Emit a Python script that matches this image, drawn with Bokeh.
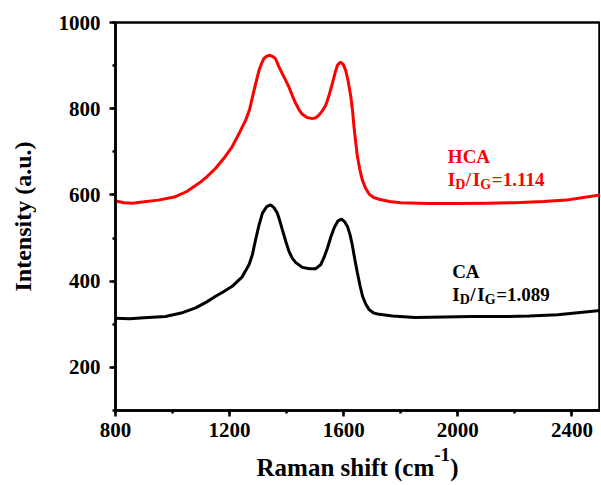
from bokeh.plotting import figure
from bokeh.models import Label, SingleIntervalTicker, Div
from bokeh.layouts import column
from bokeh.embed import file_html
from bokeh.resources import INLINE

# ---- data ----
hca_x = [800, 830, 860, 900, 950, 1010, 1050, 1092, 1120, 1151, 1180, 1209, 1235, 1256,
         1270, 1280, 1292, 1303, 1312, 1320, 1330, 1341, 1351, 1361, 1373, 1385, 1397,
         1408, 1420, 1432, 1444, 1455, 1470, 1490, 1502, 1513, 1525, 1537, 1548, 1560,
         1570, 1578, 1589, 1598, 1607, 1616, 1625, 1631, 1636, 1642, 1648, 1656, 1665,
         1677, 1689, 1705, 1724, 1760, 1800, 1900, 2000, 2100, 2200, 2300, 2380, 2440, 2500]
hca_y = [586, 582, 581, 584, 588, 596, 608, 627, 642, 662, 685, 712, 745, 773,
         798, 827, 860, 889, 905, 916, 922, 924, 921, 916, 897, 881, 865,
         850, 830, 812, 797, 787, 780, 777, 779, 785, 795, 808, 830, 858,
         884, 901, 908, 903, 889, 862, 827, 795, 758, 722, 689, 660, 635,
         615, 602, 594, 590, 585, 582, 580, 580, 581, 582, 585, 588, 594, 600]

ca_x = [800, 850, 900, 975, 1030, 1081, 1120, 1151, 1180, 1209, 1244, 1268, 1280, 1291,
        1303, 1315, 1330, 1344, 1356, 1367, 1376, 1385, 1397, 1408, 1420, 1432, 1455,
        1480, 1502, 1519, 1531, 1543, 1555, 1566, 1580, 1592, 1603, 1613, 1622, 1630,
        1639, 1648, 1657, 1666, 1677, 1689, 1705, 1724, 1771, 1850, 1950, 2050, 2150,
        2250, 2350, 2420, 2500]
ca_y = [314, 313, 315, 318, 326, 338, 352, 365, 376, 388, 410, 438, 462, 496,
        530, 558, 573, 577, 570, 558, 540, 519, 492, 469, 453, 443, 432,
        429, 429, 438, 455, 477, 503, 523, 540, 544, 538, 527, 508, 484,
        450, 419, 390, 365, 347, 334, 326, 323, 319, 316, 317, 318, 318,
        319, 322, 327, 332]

hca_name = "HCA"
hca_ratio = "=1.114"
ca_name = "CA"
ca_ratio = "=1.089"

FONT = "Liberation Serif"

p = figure(width=600, height=455, x_range=(800, 2500), y_range=(100, 1000),
           output_backend="svg", toolbar_location=None,
           min_border_left=115, min_border_right=0, min_border_top=22, min_border_bottom=45)
p.grid.visible = False
p.outline_line_color = "black"
p.outline_line_width = 2.5
p.background_fill_color = "white"
p.border_fill_color = "white"

p.line(hca_x, hca_y, line_color="#ff0000", line_width=3)
p.line(ca_x, ca_y, line_color="black", line_width=3)

p.xaxis.ticker = SingleIntervalTicker(interval=400, num_minor_ticks=2)
p.yaxis.ticker = SingleIntervalTicker(interval=200, num_minor_ticks=2)

for ax in (p.xaxis[0], p.yaxis[0]):
    ax.axis_line_width = 2.5
    ax.axis_line_color = "black"
    ax.major_tick_line_width = 2.5
    ax.minor_tick_line_width = 2.5
    ax.major_tick_in = 0
    ax.major_tick_out = 6
    ax.minor_tick_in = 0
    ax.minor_tick_out = 3
    ax.major_label_text_font = FONT
    ax.major_label_text_font_style = "bold"
    ax.major_label_text_font_size = "21px"
    ax.major_label_text_color = "black"

p.xaxis.major_label_standoff = 6
p.yaxis.major_label_standoff = 9

p.yaxis.axis_label = "Intensity (a.u.)"
p.yaxis.axis_label_text_font = FONT
p.yaxis.axis_label_text_font_style = "bold"
p.yaxis.axis_label_text_font_size = "24px"
p.yaxis.axis_label_text_color = "black"
p.yaxis.axis_label_standoff = 20

# annotations
def dlabel(txt, x, y, xo, yo, size, color):
    p.add_layout(Label(x=x, y=y, x_offset=xo, y_offset=yo, text=txt,
                       text_font=FONT, text_font_style="bold", text_font_size=size,
                       text_color=color, text_align="left", text_baseline="alphabetic"))

def ratio_block(name, ratio, x, y_name, y_ratio, color):
    dlabel(name, x, y_name, 0, 0, "19px", color)
    dlabel("I", x, y_ratio, 0, 0, "19px", color)
    dlabel("D", x, y_ratio, 7.5, -5, "14px", color)
    dlabel("/", x, y_ratio, 18.0, 0, "19px", color)
    dlabel("I", x, y_ratio, 25.0, 0, "19px", color)
    dlabel("G", x, y_ratio, 32.5, -5, "14px", color)
    dlabel(ratio, x, y_ratio, 44.0, 0, "19px", color)

ratio_block(hca_name, hca_ratio, 1965, 689, 636, "#ff0000")
ratio_block(ca_name, ca_ratio, 1980, 422, 369, "black")

# x-axis title with superscript
xtitle = Div(
    text='Raman shift (cm<span style="font-size:19px;position:relative;top:-15px;">-1</span>)',
    width=485, height=29, margin=(0, 0, 0, 115),
    styles={"font-family": FONT, "font-weight": "bold", "font-size": "25px",
            "color": "black", "text-align": "center", "line-height": "1",
            "white-space": "nowrap"})

layout = column(p, xtitle, spacing=0)

open("out.html", "w").write(file_html(layout, INLINE))
